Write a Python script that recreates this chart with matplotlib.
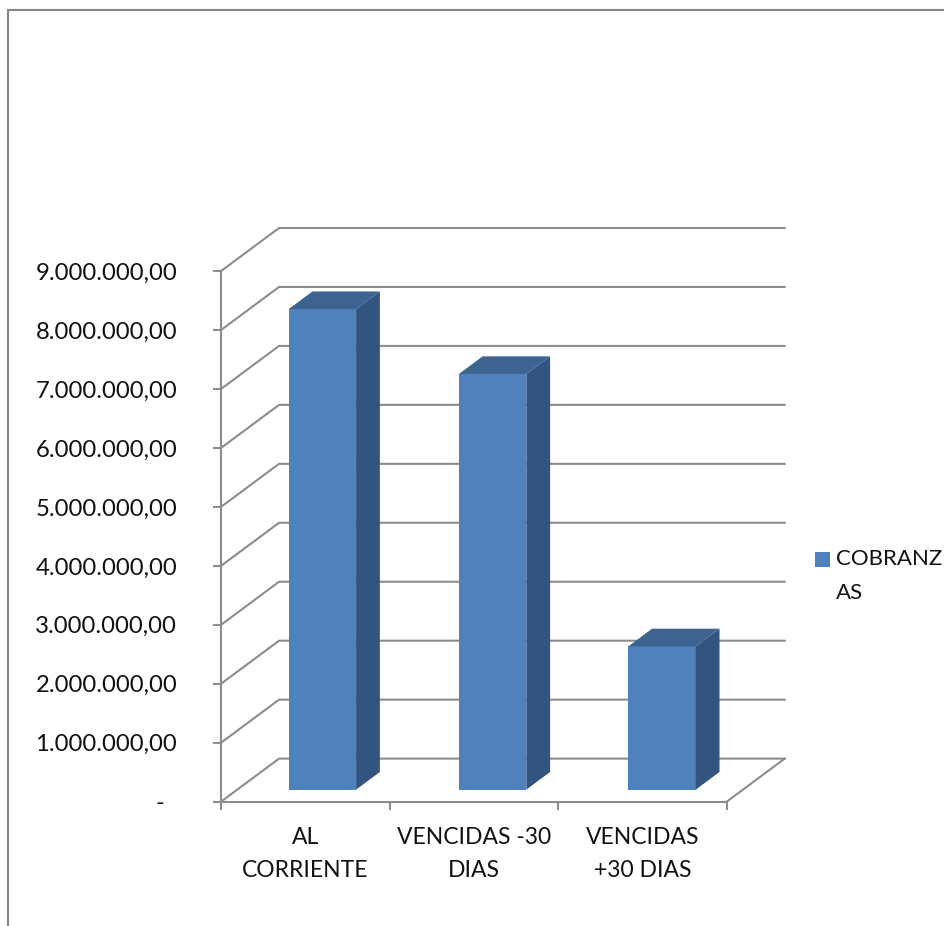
import matplotlib
matplotlib.use("Agg")
import matplotlib.pyplot as plt
from matplotlib.lines import Line2D
from matplotlib.patches import Rectangle

plt.rcParams['font.family'] = ['Lato', 'DejaVu Sans']
plt.rcParams['font.size'] = 16.5

categories = ["AL\nCORRIENTE", "VENCIDAS -30\nDIAS", "VENCIDAS\n+30 DIAS"]
values = [8150000, 7050000, 2430000]
y_ticks = [0, 1000000, 2000000, 3000000, 4000000, 5000000, 6000000, 7000000, 8000000, 9000000]
y_labels = ["-  ", "1.000.000,00", "2.000.000,00", "3.000.000,00", "4.000.000,00",
            "5.000.000,00", "6.000.000,00", "7.000.000,00", "8.000.000,00", "9.000.000,00"]
series_name = "COBRANZ\nAS"

W, H = 945, 926
GRID = '#8c8c8c'
FRONT = '#4f81bd'
SIDE = '#32547e'
TOP = '#3d6391'

# fake 3d: how far the back wall sits from the front plane, in data units
DEPTH_X = 58 / 168.5
DEPTH_Y = 43 / 58.85 * 1e6
BAR_W = 0.4
F_FRONT = 0.28  # bars front face, share of the depth
F_BACK = 0.69   # bars back face
bar_pos = [0.505, 1.515, 2.52]

fig = plt.figure(figsize=(W / 100, H / 100), dpi=100)
ax = fig.add_axes([221 / W, 1 - 801.7 / H, (726.7 + 58 - 221) / W, (801.7 - 228) / H])
ax.set_xlim(0, 3 + DEPTH_X)
ax.set_ylim(0, 9000000 + DEPTH_Y)
ax.patch.set_visible(False)

# walls
for v in y_ticks:
    ax.plot([0, DEPTH_X, 3 + DEPTH_X], [v, v + DEPTH_Y, v + DEPTH_Y],
            color=GRID, lw=1.5, zorder=1, solid_joinstyle='miter', clip_on=False)
ax.plot([3, 3 + DEPTH_X], [0, DEPTH_Y], color=GRID, lw=1.5, zorder=1, clip_on=False)

# bars
for p, v in zip(bar_pos, values):
    x0 = p + F_FRONT * DEPTH_X - BAR_W / 2
    x1 = x0 + BAR_W
    y0 = F_FRONT * DEPTH_Y
    d_x = (F_BACK - F_FRONT) * DEPTH_X
    d_y = (F_BACK - F_FRONT) * DEPTH_Y
    ax.bar(x0, v, width=BAR_W, bottom=y0, align='edge', color=FRONT, linewidth=0, zorder=3)
    ax.fill([x1, x1 + d_x, x1 + d_x, x1], [y0, y0 + d_y, y0 + v + d_y, y0 + v],
            color=SIDE, linewidth=0, zorder=3)
    ax.fill([x0, x0 + d_x, x1 + d_x, x1], [y0 + v, y0 + v + d_y, y0 + v + d_y, y0 + v],
            color=TOP, linewidth=0, zorder=3)

for s in ['top', 'right']:
    ax.spines[s].set_visible(False)
ax.spines['left'].set_bounds(0, 9000000)
ax.spines['bottom'].set_bounds(0, 3)
for s in ['left', 'bottom']:
    ax.spines[s].set_color(GRID)
    ax.spines[s].set_linewidth(1.5)

ax.set_yticks(y_ticks)
ax.set_yticklabels(y_labels)
ax.tick_params(axis='y', length=6, width=1.5, color=GRID, pad=25.5, labelcolor='#111111', labelsize=17.2)
ax.set_xticks([0, 1, 2, 3])
ax.set_xticklabels([])
ax.tick_params(axis='x', which='major', length=6, width=1.5, color=GRID)
ax.set_xticks([0.5, 1.5, 2.5], minor=True)
ax.set_xticklabels(categories, minor=True)
ax.tick_params(axis='x', which='minor', length=0, pad=18, labelcolor='#111111')
for t in ax.get_xticklabels(minor=True):
    t.set_linespacing(1.72)

# legend key and wrapped name, placed by hand as the wrap splits the word
fig.add_artist(Rectangle((815 / W, 1 - 567 / H), 15 / W, 15 / H, transform=fig.transFigure,
                         facecolor=FRONT, linewidth=0))
fig.text(836 / W, 1 - 549 / H, series_name, va='top', ha='left', fontsize=16,
         color='#111111', linespacing=1.86)

# chart frame, cut by the picture on the right and bottom
fig.add_artist(Line2D([8 / W, 8 / W, 1], [0, 1 - 10 / H, 1 - 10 / H],
                      transform=fig.transFigure, color='#868686', lw=1.5, solid_joinstyle='miter'))

fig.savefig("out.png", dpi=100)
